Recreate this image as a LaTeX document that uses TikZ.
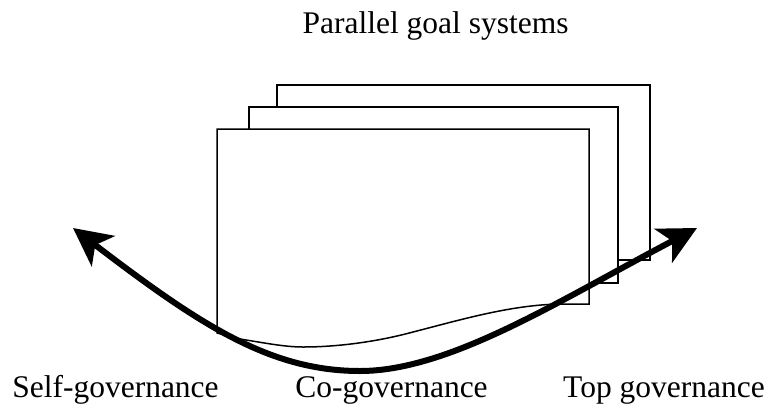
\documentclass[tikz,border=0pt]{standalone}
\usepackage{fontspec}
\setmainfont{Liberation Serif}
\usetikzlibrary{arrows.meta}
\begin{document}
\begin{tikzpicture}[x=1pt,y=-1pt,
  page/.style={draw=black,fill=white,line width=1.5pt,line join=miter},
  label/.style={anchor=base,inner sep=0pt,font=\fontsize{31.5}{36}\selectfont},
  bigarrow/.style={line width=6pt,{Stealth[length=38pt,width=38pt,inset=10pt]}-{Stealth[length=38pt,width=38pt,inset=10pt]}}]
\useasboundingbox (0,0) rectangle (771,408);
% pages
\node[page,rectangle,minimum width=373pt,minimum height=175pt,inner sep=0pt,anchor=north west] (back) at (276,84) {};
\node[page,rectangle,minimum width=369pt,minimum height=176pt,inner sep=0pt,anchor=north west] (mid) at (248,106) {};
\draw[page] (217,129) -- (589,129) -- (589,304) -- (560,304)
  .. controls (510,305) and (460,320) .. (413,332)
  .. controls (380,341) and (340,347) .. (303,347)
  .. controls (285,347) and (265,343) .. (240,339)
  -- (217,333) -- cycle;
% arrow
\coordinate (L) at (73,228);
\coordinate (B) at (360,371);
\coordinate (R) at (697,228);
\draw[bigarrow] (L) .. controls (200,325) and (270,371) .. (B)
  .. controls (450,371) and (560,300) .. (R);
% labels
\node[label] (title) at (435.5,33) {Parallel goal systems};
\node[label] (self) at (115.5,397) {Self-governance};
\node[label] (co) at (391.5,397) {Co-governance};
\node[label] (top) at (664,397) {Top governance};
\end{tikzpicture}
\end{document}
